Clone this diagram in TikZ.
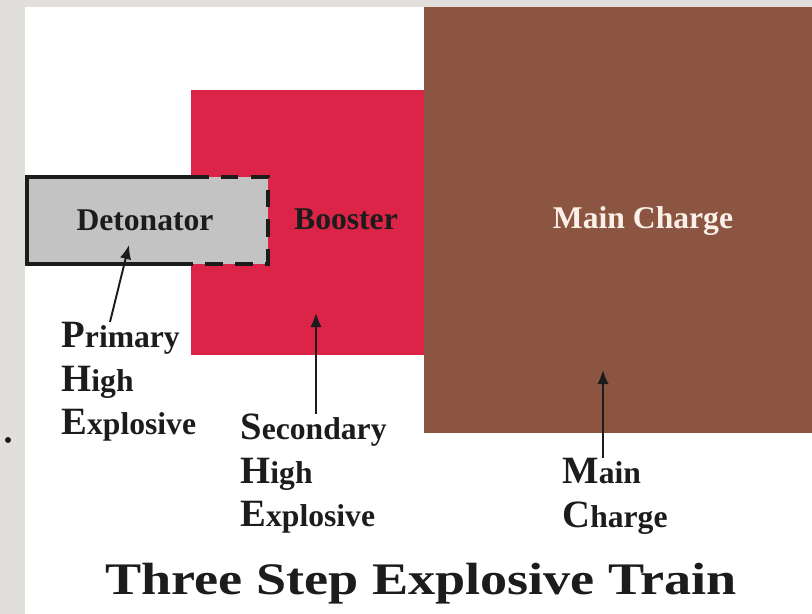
\documentclass[tikz,border=0pt]{standalone}
\usepackage{fontspec}
\setmainfont{Liberation Serif}
\newfontfamily\titlefont{Liberation Serif}[FakeStretch=1.2]
\usetikzlibrary{arrows.meta}
\definecolor{booster}{RGB}{219,36,72}
\definecolor{charge}{RGB}{139,85,66}
\definecolor{detgray}{RGB}{195,195,195}
\definecolor{slide}{RGB}{224,223,219}
\definecolor{ink}{RGB}{28,28,28}
\definecolor{paper}{RGB}{250,240,232}
\newcommand{\initial}[1]{{\fontsize{22}{24.7}\selectfont #1}}
\begin{document}
\begin{tikzpicture}[x=0.02cm, y=-0.02cm,
    box/.style={font=\fontsize{18}{22}\selectfont\bfseries, inner sep=0pt, anchor=base},
    lbl/.style={font=\fontsize{18}{24.7}\selectfont\bfseries, text=ink, align=left, inner sep=0pt, anchor=north west},
    arr/.style={-{Latex[length=8pt,width=6.5pt]}, line width=1.1pt, ink}]
    \useasboundingbox (0,0) rectangle (812,614);
    \fill[slide] (0,0) rectangle (812,614);
    \fill[white] (25,7) rectangle (812,614);
    \fill[ink] (8,440) circle (3);

    \fill[charge] (424,7) rectangle (812,433);
    \fill[booster] (191,90) rectangle (424,355);
    \fill[detgray] (27,177) rectangle (268,264);
    \draw[line width=2.3pt, ink] (191,177) -- (27,177) -- (27,264) -- (191,264);
    \draw[line width=2.3pt, ink, dash pattern=on 10pt off 7pt] (191,177) -- (268,177) -- (268,264) -- (191,264);

    \node[box, text=ink] (det) at (145,231) {Detonator};
    \node[box, text=ink] (boost) at (346,230) {Booster};
    \node[box, text=paper] (mainc) at (643,229) {Main Charge};

    \node[lbl] (prim) at (61,322) {\initial{P}rimary\\\initial{H}igh\\\initial{E}xplosive};
    \node[lbl] (sec) at (240,414) {\initial{S}econdary\\\initial{H}igh\\\initial{E}xplosive};
    \node[lbl] (mainlbl) at (562,458) {\initial{M}ain\\\initial{C}harge};

    \coordinate (dettip) at (129,245);
    \coordinate (boosttip) at (316,313);
    \coordinate (maintip) at (603,370);
    \draw[arr] ([xshift=0.98cm]prim.north west) -- (dettip);
    \draw[arr] (boosttip |- sec.north) -- (boosttip);
    \draw[arr] (maintip |- mainlbl.north) -- (maintip);

    \node[font=\titlefont\fontsize{25.7}{26}\selectfont\bfseries, text=ink, inner sep=0pt, anchor=base] (title) at (421,595) {Three Step Explosive Train};
\end{tikzpicture}
\end{document}
